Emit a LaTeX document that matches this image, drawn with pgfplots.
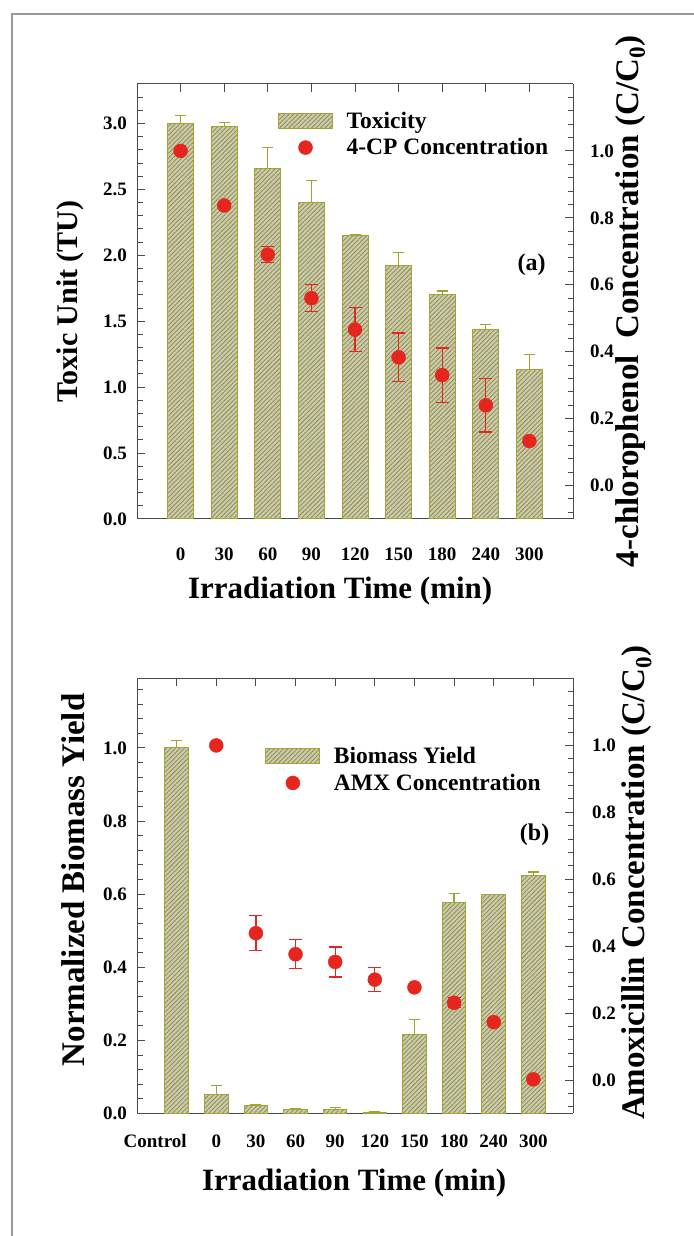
\documentclass[border=0pt]{standalone}
\usepackage{pgfplots}
\pgfplotsset{compat=1.18}
\usepackage{fontspec}
\setmainfont{Liberation Serif}
\usetikzlibrary{patterns.meta}

\definecolor{barfill}{HTML}{C9C9C1}
\definecolor{hatch}{HTML}{96962A}
\definecolor{baredge}{HTML}{A3A32E}
\definecolor{dotred}{HTML}{E4261F}
\definecolor{axisgray}{HTML}{4A4A4A}
\definecolor{framegray}{HTML}{9A9A9A}

\tikzset{
  hatched/.style={fill=barfill, draw=baredge, line width=1pt,
    postaction={pattern={Lines[angle=45, distance=3.2pt, line width=0.9pt]},
      pattern color=hatch}},
}

\pgfplotsset{
  base/.style={
    scale only axis, anchor=south west, width=436pt, height=435pt,
    clip=false,
    axis line style={draw=axisgray, line width=1pt},
    tick style={draw=axisgray, line width=1pt},
    tick align=inside,
    major tick length=8pt, minor tick length=5.5pt,
    ticklabel style={font=\fontsize{19}{22}\selectfont\bfseries, inner sep=0pt},
    label style={font=\fontsize{33}{38}\selectfont\bfseries},
    /pgf/number format/.cd, fixed, fixed zerofill, precision=1,
    assume math mode=true, /pgfplots/.cd,
  },
  leftax/.style={
    base, axis y line*=left,
    xtick pos=upper, xticklabel pos=lower,
    xticklabel style={anchor=center, yshift=-35pt},
    yticklabel style={anchor=east, xshift=-10pt},
    xlabel style={font=\fontsize{31}{36}\selectfont\bfseries},
  },
  rightax/.style={
    base, axis y line*=right, axis x line=none,
    yticklabel style={anchor=west, xshift=17pt},
    legend style={draw=none, fill=none, inner sep=0pt,
      font=\fontsize{23.5}{28}\selectfont\bfseries, row sep=5pt},
    legend cell align=left,
  },
  barerr/.style={error bars/.cd, y dir=plus, y explicit,
    error bar style={draw=baredge, line width=1.3pt},
    error mark options={rotate=90, draw=baredge, line width=1.3pt, mark size=5.5pt}},
  doterr/.style={error bars/.cd, y dir=both, y explicit,
    error bar style={draw=dotred, line width=1.3pt},
    error mark options={rotate=90, draw=dotred, line width=1.3pt, mark size=6.5pt}},
  % legend symbols: a 54pt wide hatched patch and a filled disc, each in a 66pt cell
  patchimg/.style={legend image code/.code={
    \path[draw=none, fill=none] (0pt,0pt) -- (66pt,0pt);
    \draw[hatched] (0pt,-7.5pt) rectangle (54pt,7.5pt);}},
  dotimg/.style={legend image code/.code={
    \path[draw=none, fill=none] (0pt,0pt) -- (66pt,0pt);
    \fill[dotred] (27pt,0pt) circle (7pt);}},
}

\begin{document}
\begin{tikzpicture}
\useasboundingbox (0,0) rectangle (693pt,1236pt);
\draw[framegray, line width=1.8pt] (12pt,-2pt) -- (12pt,1222pt) -- (695pt,1222pt);

% ---------------- (a) toxicity and 4-chlorophenol ----------------
\begin{axis}[leftax, at={(137pt,717pt)},
  xmin=-1, xmax=9, ymin=0, ymax=3.3,
  xtick={0,...,8}, xticklabels={0,30,60,90,120,150,180,240,300},
  ytick={0,0.5,...,3.0}, minor ytick={0,0.1,...,3.2},
  ylabel={Toxic Unit (TU)},
  ylabel style={at={(rel axis cs:-0.154,0.5)}, anchor=center,
    font=\fontsize{30}{36}\selectfont\bfseries},
  xlabel={Irradiation Time (min)},
  xlabel style={at={(rel axis cs:0.466,-0.166)}, anchor=center},
]
\addplot[ybar, bar width=26pt, hatched, barerr] coordinates {
  (0,3.00) +- (0,0.06)
  (1,2.98) +- (0,0.03)
  (2,2.66) +- (0,0.16)
  (3,2.40) +- (0,0.17)
  (4,2.15) +- (0,0.005)
  (5,1.92) +- (0,0.10)
  (6,1.70) +- (0,0.03)
  (7,1.437) +- (0,0.04)
  (8,1.136) +- (0,0.11)
};
\end{axis}

\begin{axis}[rightax, at={(137pt,717pt)},
  xmin=-1, xmax=9, ymin=-0.1, ymax=1.2,
  ytick={0,0.2,...,1.0}, minor ytick={-0.08,-0.04,...,1.17},
  ylabel={4-chlorophenol\ \ Concentration (C/C\textsubscript{0})},
  ylabel style={at={(rel axis cs:1.131,0.5)}, anchor=center},
  legend style={at={(rel axis cs:0.323,0.941)}, anchor=north west},
]
\addlegendimage{patchimg}
\addlegendentry{Toxicity}
\addplot[only marks, mark=*, mark size=7pt, color=dotred, dotimg, doterr]
coordinates {
  (0,1.00) +- (0,0)
  (1,0.837) +- (0,0)
  (2,0.69) +- (0,0.024)
  (3,0.56) +- (0,0.04)
  (4,0.466) +- (0,0.065)
  (5,0.383) +- (0,0.073)
  (6,0.33) +- (0,0.081)
  (7,0.24) +- (0,0.08)
  (8,0.133) +- (0,0)
};
\addlegendentry{4-CP Concentration}
\node[font=\fontsize{24}{28}\selectfont\bfseries] at (rel axis cs:0.905,0.584) {(a)};
\end{axis}

% ---------------- (b) biomass yield and amoxicillin ----------------
\begin{axis}[leftax, at={(137pt,122.5pt)},
  xmin=-1, xmax=10, ymin=0, ymax=1.19,
  xtick={0,...,9},
  xticklabels={\makebox[20pt][r]{Control},0,30,60,90,120,150,180,240,300},
  ytick={0,0.2,...,1.0}, minor ytick={0,0.04,...,1.17},
  ylabel={Normalized Biomass Yield},
  ylabel style={at={(rel axis cs:-0.146,0.537)}, anchor=center},
  xlabel={Irradiation Time (min)},
  xlabel style={at={(rel axis cs:0.498,-0.16)}, anchor=center},
  xticklabel style={yshift=7pt},
]
\addplot[ybar, bar width=23.5pt, hatched, barerr] coordinates {
  (0,1.00) +- (0,0.02)
  (1,0.053) +- (0,0.024)
  (2,0.023) +- (0,0)
  (3,0.010) +- (0,0.003)
  (4,0.011) +- (0,0.006)
  (5,0.002) +- (0,0.003)
  (6,0.217) +- (0,0.041)
  (7,0.576) +- (0,0.025)
  (8,0.599) +- (0,0)
  (9,0.650) +- (0,0.011)
};
\end{axis}

\begin{axis}[rightax, at={(137pt,122.5pt)},
  xmin=-1, xmax=10, ymin=-0.1, ymax=1.2,
  ytick={0,0.2,...,1.0}, minor ytick={-0.08,-0.04,...,1.17},
  ylabel={Amoxicillin Concentration (C/C\textsubscript{0})},
  ylabel style={at={(rel axis cs:1.146,0.53)}, anchor=center},
  yticklabel style={xshift=2pt},
  legend style={at={(rel axis cs:0.294,0.847)}, anchor=north west},
]
\addlegendimage{patchimg}
\addlegendentry{Biomass Yield}
\addplot[only marks, mark=*, mark size=7pt, color=dotred, dotimg, doterr]
coordinates {
  (1,1.00) +- (0,0)
  (2,0.439) +- (0,0.052)
  (3,0.376) +- (0,0.043)
  (4,0.353) +- (0,0.045)
  (5,0.30) +- (0,0.036)
  (6,0.277) +- (0,0)
  (7,0.231) +- (0,0.015)
  (8,0.173) +- (0,0)
  (9,0.002) +- (0,0)
};
\addlegendentry{AMX Concentration}
\node[font=\fontsize{24}{28}\selectfont\bfseries] at (rel axis cs:0.912,0.64) {(b)};
\end{axis}
\end{tikzpicture}
\end{document}
